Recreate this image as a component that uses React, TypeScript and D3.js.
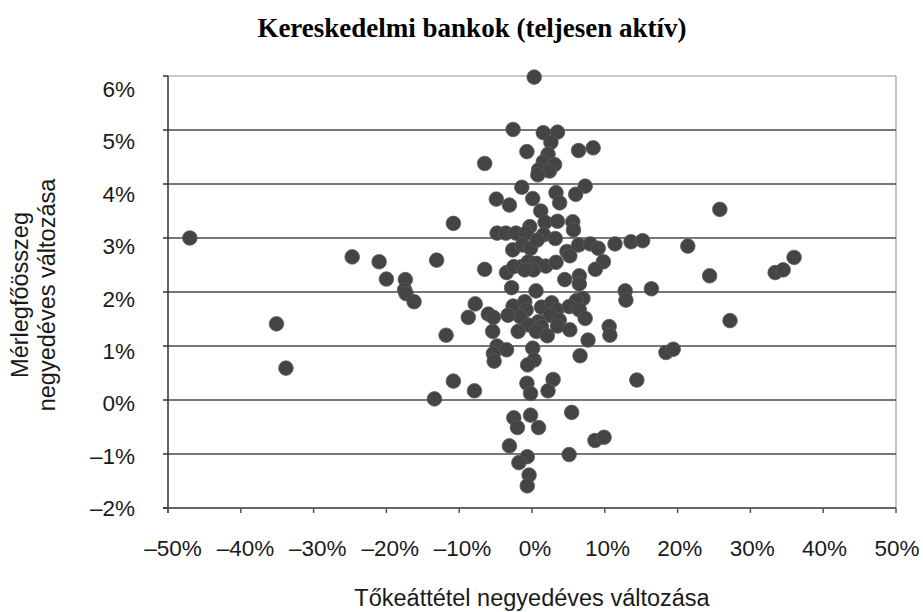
import React, { useEffect } from "react";
import * as d3 from "d3";

const chartTitle = "Kereskedelmi bankok (teljesen aktív)";
const xAxisTitle = "Tőkeáttétel negyedéves változása";
const yAxisTitleLines = ["Mérlegfőösszeg", "negyedéves változása"];

const xTicks = [-50, -40, -30, -20, -10, 0, 10, 20, 30, 40, 50];
const yTicks = [-2, -1, 0, 1, 2, 3, 4, 5, 6];

// Tőkeáttétel negyedéves változása (%)
const xValues = [
  -47.0, -24.7, -21.0, -20.0, -17.4, -17.5, -17.3, -16.2, -13.1, -10.8,
  -35.1, -33.8, -11.8, -10.8, -13.4, 25.8, 13.6, 15.2, 11.4, 21.4,
  24.4, 33.4, 34.5, 36.0, 12.8, 12.9, 16.4, 27.2, 18.4, 19.4,
  14.4, -2.6, 1.55, 3.5, 2.6, -0.7, 6.4, 8.4, -6.5, 2.2,
  1.55, 3.1, 0.9, 2.4, 0.8, -1.4, 7.3, 6.0, 3.3, 3.8,
  -4.9, -3.1, 0.1, 1.2, 1.8, 3.5, 5.6, 5.7, -0.3, -4.8,
  -3.6, -2.2, -0.8, 1.6, 3.2, -2.65, -1.3, -0.2, 0.7, -6.5,
  -3.5, -2.5, -1.4, -0.5, 0.6, 0.2, 1.9, 3.3, -1.0, 4.8,
  5.2, 6.4, 8.0, 9.1, 9.8, 8.7, 4.5, 6.5, 6.5, -2.8,
  0.55, 7.0, 6.1, -7.8, -8.75, -6.0, -5.3, -5.4, -2.6, -1.0,
  -0.8, -1.6, -3.3, 1.3, 2.7, 3.4, 2.5, 0.9, 1.3, 3.75,
  3.5, -0.5, -1.9, 0.6, 2.1, 5.1, 6.5, 7.3, 5.2, 7.7,
  10.6, 10.7, -4.8, -5.3, -3.5, 0.1, 6.6, -5.2, 0.3, -0.6,
  -7.9, -0.7, -0.2, 2.9, 2.2, -2.5, -2.0, -0.2, 0.9, 5.45,
  8.65, 9.9, -3.1, -0.65, -1.8, 5.1, -0.4, -0.65, 0.3,
];

// Mérlegfőösszeg negyedéves változása (%)
const yValues = [
  3.0, 2.65, 2.56, 2.24, 2.23, 2.04, 1.97, 1.82, 2.59, 3.27,
  1.41, 0.59, 1.2, 0.35, 0.02, 3.53, 2.93, 2.95, 2.89, 2.85,
  2.3, 2.36, 2.41, 2.64, 2.02, 1.85, 2.06, 1.47, 0.88, 0.94,
  0.37, 5.01, 4.95, 4.96, 4.77, 4.6, 4.62, 4.67, 4.38, 4.55,
  4.41, 4.36, 4.26, 4.24, 4.17, 3.94, 3.96, 3.81, 3.84, 3.65,
  3.72, 3.61, 3.73, 3.5, 3.29, 3.31, 3.3, 3.15, 3.21, 3.09,
  3.09, 3.09, 3.09, 3.06, 2.99, 2.78, 2.87, 2.81, 2.96, 2.42,
  2.36, 2.47, 2.47, 2.56, 2.53, 2.41, 2.48, 2.55, 2.41, 2.75,
  2.67, 2.87, 2.89, 2.81, 2.56, 2.42, 2.23, 2.3, 2.15, 2.08,
  2.02, 1.88, 1.84, 1.78, 1.53, 1.59, 1.53, 1.27, 1.74, 1.82,
  1.67, 1.54, 1.57, 1.72, 1.8, 1.67, 1.57, 1.45, 1.36, 1.48,
  1.37, 1.39, 1.27, 1.27, 1.19, 1.73, 1.67, 1.51, 1.3, 1.11,
  1.36, 1.2, 1.0, 0.86, 0.93, 0.96, 0.82, 0.72, 0.74, 0.65,
  0.17, 0.31, 0.12, 0.38, 0.17, -0.33, -0.51, -0.28, -0.51, -0.23,
  -0.75, -0.69, -0.85, -1.05, -1.16, -1.01, -1.39, -1.59, 5.98,
];

const W = 923;
const H = 612;
const plotLeft = 168;
const plotRight = 896;
const plotTop = 76;
const plotBottom = 508;

const fmt = (v: number) => (v < 0 ? "–" + Math.abs(v) + "%" : v + "%");

export default function App() {
  useEffect(() => {
    document.body.style.margin = "0";
  }, []);

  const x = d3.scaleLinear().domain([-50, 50]).range([plotLeft, plotRight]);
  const y = d3.scaleLinear().domain([-2, 6]).range([plotBottom, plotTop]);
  // tick labels in the reference sit on a slightly tighter grid than the gridlines
  const yLabel = d3.scaleLinear().domain([-2, 6]).range([508, 89]);
  const xLabel = d3.scaleLinear().domain([-50, 50]).range([plotLeft + 5, plotRight + 1]);
  const points = xValues.map((v, i) => ({ x: v, y: yValues[i] }));

  const sansFont = "'Liberation Sans', Arial, sans-serif";
  const tickSize = 22.5;

  return (
    <svg width={W} height={H} style={{ display: "block", background: "#fff" }}>
      <rect x={0} y={0} width={W} height={H} fill="#fff" />
      {/* title */}
      <text
        x={472}
        y={37}
        textAnchor="middle"
        fontFamily="'Liberation Serif', 'Times New Roman', serif"
        fontWeight="bold"
        fontSize={27}
        fill="#000"
      >
        {chartTitle}
      </text>

      {/* plot border (top, right) */}
      <line x1={plotLeft} x2={plotRight} y1={plotTop} y2={plotTop} stroke="#b8b8b8" strokeWidth={1.5} />
      <line x1={plotRight} x2={plotRight} y1={plotTop} y2={plotBottom} stroke="#b0b0b0" strokeWidth={1.5} />

      {/* horizontal gridlines */}
      {yTicks
        .filter((t) => t !== 6 && t !== -2)
        .map((t) => (
          <line
            key={"g" + t}
            x1={plotLeft}
            x2={plotRight}
            y1={y(t)}
            y2={y(t)}
            stroke="#4a4a4a"
            strokeWidth={1.6}
          />
        ))}

      {/* axes */}
      <line x1={plotLeft} x2={plotLeft} y1={plotTop} y2={plotBottom + 5} stroke="#333" strokeWidth={1.5} />
      <line x1={plotLeft - 5} x2={plotRight} y1={plotBottom} y2={plotBottom} stroke="#333" strokeWidth={1.6} />
      {yTicks.map((t) => (
        <line key={"yt" + t} x1={plotLeft - 5} x2={plotLeft} y1={y(t)} y2={y(t)} stroke="#333" strokeWidth={1.5} />
      ))}
      {xTicks.map((t) => (
        <line key={"xt" + t} x1={x(t)} x2={x(t)} y1={plotBottom} y2={plotBottom + 5} stroke="#555" strokeWidth={1.5} />
      ))}

      {/* y tick labels */}
      {yTicks.map((t) => (
        <text
          key={"yl" + t}
          x={135}
          y={yLabel(t) + 8}
          textAnchor="end"
          fontFamily={sansFont}
          fontSize={tickSize}
          fill="#1a1a1a"
        >
          {fmt(t)}
        </text>
      ))}

      {/* x tick labels */}
      {xTicks.map((t) => (
        <text
          key={"xl" + t}
          x={xLabel(t)}
          y={556}
          textAnchor="middle"
          fontFamily={sansFont}
          fontSize={tickSize}
          fill="#1a1a1a"
        >
          {fmt(t)}
        </text>
      ))}

      {/* x axis title */}
      <text x={532} y={606} textAnchor="middle" fontFamily={sansFont} fontSize={23.5} fill="#1a1a1a">
        {xAxisTitle}
      </text>

      {/* y axis title */}
      {yAxisTitleLines.map((line, i) => (
        <text
          key={"ya" + i}
          transform={`translate(${28 + i * 27},295) rotate(-90)`}
          textAnchor="middle"
          fontFamily={sansFont}
          fontSize={23.5}
          fill="#1a1a1a"
        >
          {line}
        </text>
      ))}

      {/* points */}
      {points.map((p, i) => (
        <circle key={"p" + i} cx={x(p.x)} cy={y(p.y)} r={7.3} fill="#444" stroke="#5a5a5a" strokeWidth={0.8} />
      ))}
    </svg>
  );
}
